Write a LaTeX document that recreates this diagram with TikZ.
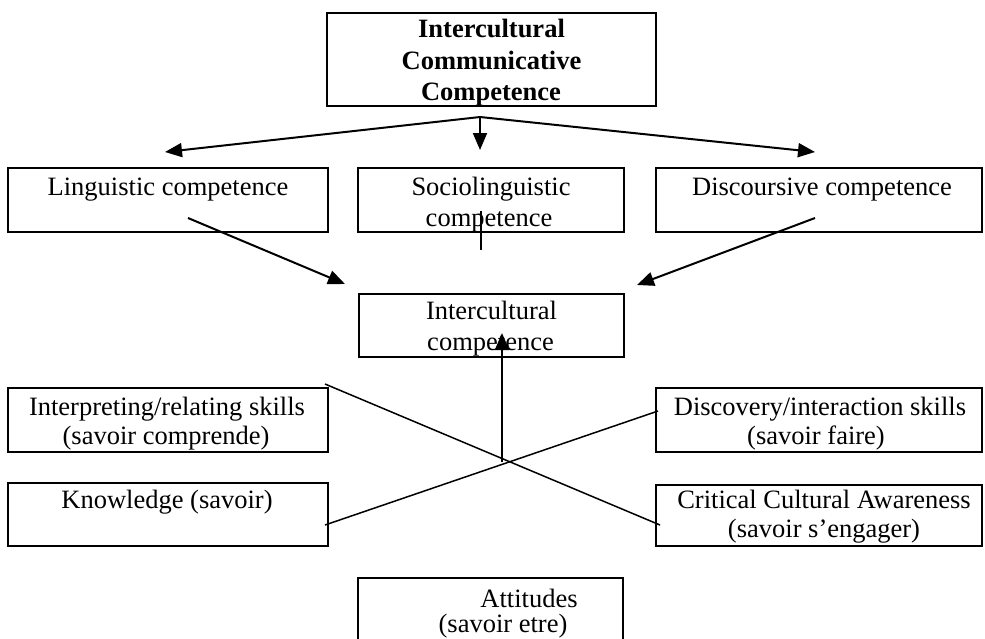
\documentclass[tikz,border=0pt]{standalone}
\usepackage{fontspec}
\setmainfont{Liberation Serif}
\usetikzlibrary{arrows.meta,fit}
\begin{document}
\begin{tikzpicture}[x=1pt,y=-1pt,
  box/.style={draw, line width=2pt, inner sep=0pt},
  txt/.style={inner sep=0pt, anchor=base, font=\fontsize{26.5}{31}\selectfont},
  arr/.style={line width=2pt, -{Triangle[length=17pt,width=14pt]}},
  thinline/.style={line width=1.5pt}]
\useasboundingbox (0,0) rectangle (985,638);
\clip (0,0) rectangle (985,638);

% boxes
\node[box, fit={(327,13) (656,106)}] (top) {};
\node[box, fit={(8,168) (328,232)}] (ling) {};
\node[box, fit={(358,168) (624,232)}] (socio) {};
\node[box, fit={(656,168) (982,232)}] (disc) {};
\node[box, fit={(359,294) (624,357)}] (icc) {};
\node[box, fit={(8,388) (328,452)}] (interp) {};
\node[box, fit={(656,388) (982,452)}] (disco) {};
\node[box, fit={(8,483) (328,546)}] (know) {};
\node[box, fit={(656,485) (982,546)}] (crit) {};
\node[box, fit={(358,578) (623,660)}] (att) {};

% texts
\node[txt] (topA) at (491.5,37) {\textbf{Intercultural}};
\node[txt] (topB) at (491.5,69) {\textbf{Communicative}};
\node[txt] (topC) at (491,100) {\textbf{Competence}};
\node[txt] (lingA) at (168,195) {Linguistic competence};
\node[txt] (socioA) at (491,195) {Sociolinguistic};
\node[txt] (socioB) at (489,226) {competence};
\node[txt] (discA) at (822,195) {Discoursive competence};
\node[txt] (iccA) at (491.5,319) {Intercultural};
\node[txt] (iccB) at (490.5,350) {competence};
\node[txt] (interpA) at (167,415) {Interpreting/relating skills};
\node[txt] (interpB) at (166,444) {(savoir comprende)};
\node[txt] (discoA) at (820,415) {Discovery/interaction skills};
\node[txt] (discoB) at (816,444) {(savoir faire)};
\node[txt] (knowA) at (167,508) {Knowledge (savoir)};
\node[txt] (critA) at (824,508) {Critical Cultural Awareness};
\node[txt] (critB) at (824,537) {(savoir s’engager)};
\node[txt] (attA) at (529,607) {Attitudes};
\node[txt] (attB) at (503,632) {(savoir etre)};

% connector points
\coordinate (hub) at (480,117);
\coordinate (lingIn) at (165,152);
\coordinate (socioIn) at (480,150);
\coordinate (discIn) at (815,152);
\coordinate (lingOut) at (188,218);
\coordinate (discOut) at (815,218);
\coordinate (iccInL) at (345,284);
\coordinate (iccInR) at (637,285);
\coordinate (socioOut) at (481,211);
\coordinate (socioEnd) at (481,250);
\coordinate (cross) at (502,462);
\coordinate (iccInB) at (502,333);
\coordinate (interpOut) at (325,384);
\coordinate (critIn) at (660,525);
\coordinate (knowOut) at (325,525);
\coordinate (discoIn) at (658,411);

% connectors
\draw[arr] (hub) -- (lingIn);
\draw[arr] (hub) -- (socioIn);
\draw[arr] (hub) -- (discIn);
\draw[arr] (lingOut) -- (iccInL);
\draw[arr] (discOut) -- (iccInR);
\draw[thinline] (socioOut) -- (socioEnd);
\draw[arr] (cross) -- (iccInB);
\draw[thinline] (interpOut) -- (critIn);
\draw[thinline] (knowOut) -- (discoIn);
\end{tikzpicture}
\end{document}
